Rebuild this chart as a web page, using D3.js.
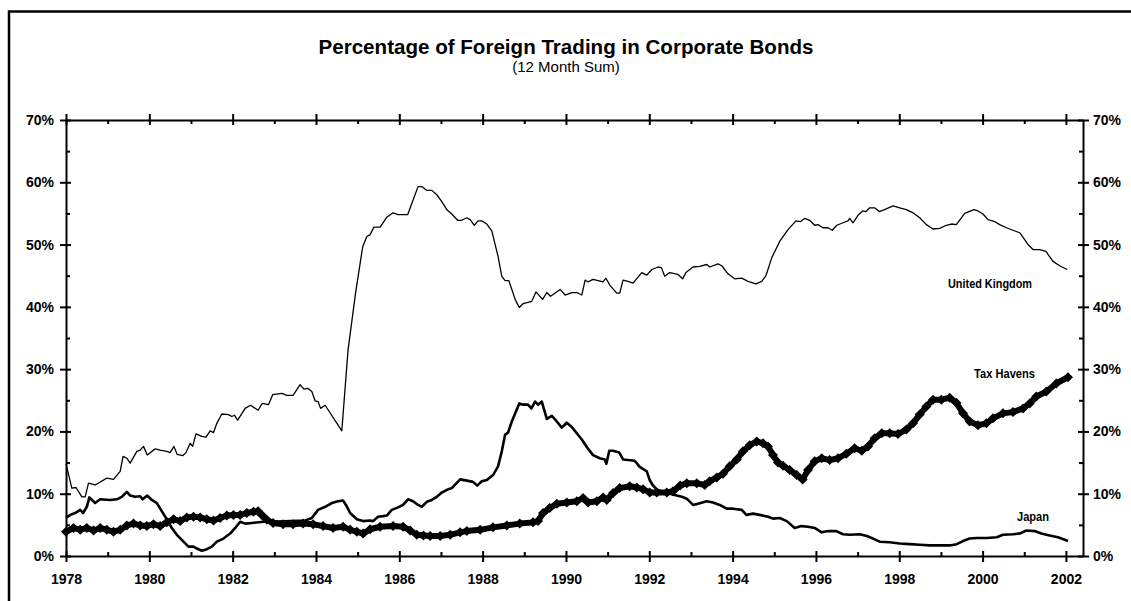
<!DOCTYPE html>
<html>
<head>
<meta charset="utf-8">
<script src="https://cdn.jsdelivr.net/npm/d3@7"></script>
<style>
  body { margin: 0; background: #fff; }
  svg { display: block; }
  text { font-family: "Liberation Sans", Arial, sans-serif; fill: #000; }
</style>
</head>
<body>
<script>
// values: [decimal year, percent]
const ukPoints = [
  [1978.00,14.8],[1978.14,10.9],[1978.24,11.0],[1978.38,9.5],[1978.46,9.5],[1978.54,11.7],[1978.70,11.4],[1978.98,12.5],
  [1979.14,12.3],[1979.30,13.6],[1979.37,16.0],[1979.46,15.7],[1979.54,14.9],[1979.70,16.8],[1979.78,17.0],[1979.86,17.6],[1979.95,16.2],
  [1980.14,17.2],[1980.26,17.0],[1980.42,16.8],[1980.50,16.6],[1980.59,17.6],[1980.67,16.3],[1980.80,16.1],[1980.88,16.6],[1980.98,18.1],
  [1981.04,17.6],[1981.12,19.6],[1981.26,19.2],[1981.36,19.1],[1981.46,20.1],[1981.54,19.8],[1981.62,21.3],[1981.74,22.8],[1981.90,22.7],[1981.98,22.4],
  [1982.04,22.6],[1982.12,21.8],[1982.30,23.7],[1982.43,24.2],[1982.61,23.4],[1982.71,24.5],[1982.86,24.3],[1982.96,25.9],
  [1983.18,26.1],[1983.30,25.8],[1983.45,25.8],[1983.62,27.5],[1983.71,26.8],[1983.81,26.9],[1983.90,26.4],[1983.98,24.9],
  [1984.05,24.8],[1984.11,23.7],[1984.22,24.2],[1984.62,20.1],[1984.77,33.1],[1984.95,42.2],
  [1985.12,49.6],[1985.22,51.3],[1985.30,51.6],[1985.39,52.8],[1985.54,52.8],[1985.70,54.4],[1985.85,55.1],[1985.97,54.8],
  [1986.20,54.8],[1986.45,59.3],[1986.55,59.3],[1986.66,58.7],[1986.78,58.7],[1986.90,58.0],
  [1987.02,56.9],[1987.14,55.6],[1987.26,54.9],[1987.40,53.9],[1987.50,53.9],[1987.62,54.3],[1987.70,54.0],[1987.80,53.1],[1987.89,53.8],[1987.98,53.8],
  [1988.10,53.3],[1988.22,52.2],[1988.37,48.1],[1988.46,44.9],[1988.54,44.2],[1988.63,44.2],[1988.78,41.2],[1988.88,39.9],[1988.97,40.5],
  [1989.18,40.9],[1989.28,42.4],[1989.44,41.2],[1989.54,42.3],[1989.63,41.7],[1989.86,42.8],[1989.98,41.9],
  [1990.14,42.3],[1990.26,42.3],[1990.38,41.9],[1990.46,44.3],[1990.53,44.0],[1990.65,44.4],[1990.77,44.2],[1990.89,44.0],[1990.96,44.6],
  [1991.06,43.4],[1991.22,42.2],[1991.29,42.2],[1991.37,44.3],[1991.49,44.1],[1991.61,43.8],[1991.82,45.5],[1991.94,45.1],
  [1992.06,46.0],[1992.21,46.4],[1992.29,46.3],[1992.37,44.9],[1992.49,45.5],[1992.69,45.2],[1992.80,44.5],[1992.88,45.5],
  [1993.05,46.4],[1993.21,46.5],[1993.38,46.8],[1993.45,46.4],[1993.65,46.9],[1993.74,46.6],[1993.89,45.3],
  [1994.05,44.5],[1994.22,44.6],[1994.37,44.1],[1994.56,43.7],[1994.70,44.1],[1994.80,45.0],[1994.94,47.9],
  [1995.13,50.5],[1995.33,52.4],[1995.52,53.8],[1995.63,53.7],[1995.73,54.2],[1995.85,53.9],[1995.97,53.1],
  [1996.05,53.2],[1996.17,52.7],[1996.29,52.7],[1996.39,52.3],[1996.50,53.1],[1996.65,53.5],[1996.77,53.8],[1996.81,54.2],[1996.89,53.5],
  [1997.01,54.7],[1997.12,55.4],[1997.20,55.3],[1997.29,55.9],[1997.41,55.9],[1997.52,55.3],[1997.65,55.6],[1997.85,56.2],
  [1998.01,55.9],[1998.17,55.6],[1998.33,55.1],[1998.49,54.3],[1998.65,53.2],[1998.81,52.5],[1998.97,52.6],
  [1999.13,53.1],[1999.25,53.3],[1999.37,53.2],[1999.57,55.0],[1999.79,55.6],[1999.89,55.4],
  [2000.01,54.9],[2000.13,54.0],[2000.29,53.7],[2000.41,53.2],[2000.57,52.7],[2000.73,52.3],[2000.89,51.9],
  [2001.01,50.8],[2001.09,50.0],[2001.21,49.2],[2001.37,49.2],[2001.52,48.9],[2001.69,47.3],[2001.85,46.6],[2002.03,46.0]
];

const taxPoints = [
  [1978.00,3.9],[1978.18,4.5],[1978.34,4.2],[1978.50,4.5],[1978.66,4.1],[1978.82,4.5],[1978.98,4.2],
  [1979.14,3.9],[1979.30,4.2],[1979.46,4.9],[1979.62,5.2],[1979.78,4.9],[1979.94,4.8],
  [1980.10,5.1],[1980.26,4.8],[1980.42,5.4],[1980.58,5.9],[1980.74,5.6],[1980.90,6.2],
  [1981.06,6.3],[1981.22,6.2],[1981.38,5.9],[1981.54,5.7],[1981.70,6.1],[1981.86,6.5],
  [1982.02,6.6],[1982.18,6.6],[1982.34,6.9],[1982.50,7.1],[1982.61,7.2],[1982.70,6.6],[1982.82,5.8],[1982.97,5.3],
  [1983.21,5.1],[1983.45,5.1],[1983.69,5.2],[1983.93,5.1],
  [1984.17,4.8],[1984.41,4.5],[1984.65,4.7],[1984.82,4.2],[1984.98,3.9],
  [1985.13,3.6],[1985.30,4.3],[1985.54,4.7],[1985.85,4.8],
  [1986.09,4.7],[1986.26,4.1],[1986.42,3.4],[1986.58,3.3],[1986.74,3.2],[1986.98,3.2],
  [1987.22,3.4],[1987.46,3.8],[1987.62,4.0],[1987.94,4.2],
  [1988.25,4.6],[1988.58,4.9],[1988.89,5.2],
  [1989.21,5.4],[1989.33,5.6],[1989.45,6.9],[1989.61,7.7],[1989.78,8.4],
  [1990.02,8.6],[1990.26,8.8],[1990.41,9.3],[1990.53,8.6],[1990.74,8.8],[1990.89,9.4],[1990.98,9.0],
  [1991.13,10.1],[1991.29,10.9],[1991.53,11.2],[1991.70,11.0],[1991.85,10.7],
  [1992.01,10.2],[1992.18,10.2],[1992.42,10.2],[1992.57,10.4],[1992.74,11.3],[1992.90,11.7],
  [1993.14,11.7],[1993.33,11.4],[1993.45,12.0],[1993.62,12.6],[1993.77,13.2],[1993.93,14.4],
  [1994.10,15.5],[1994.25,16.8],[1994.41,17.8],[1994.58,18.4],[1994.73,18.1],[1994.85,17.6],[1994.97,16.2],
  [1995.09,15.0],[1995.21,14.5],[1995.37,13.8],[1995.54,13.0],[1995.68,12.3],[1995.81,13.8],[1995.97,15.2],
  [1996.14,15.7],[1996.33,15.4],[1996.53,15.7],[1996.73,16.4],[1996.93,17.3],
  [1997.10,16.9],[1997.25,17.6],[1997.41,18.9],[1997.58,19.7],[1997.77,19.7],[1997.97,19.6],
  [1998.17,20.3],[1998.33,21.3],[1998.49,22.7],[1998.65,24.0],[1998.81,25.1],
  [1999.01,25.1],[1999.21,25.4],[1999.37,24.6],[1999.53,22.9],[1999.69,21.6],[1999.89,21.0],
  [2000.09,21.3],[2000.25,22.1],[2000.49,22.9],[2000.73,23.1],[2000.97,23.7],
  [2001.13,24.5],[2001.29,25.6],[2001.53,26.4],[2001.77,27.7],[2002.05,28.7]
];

const japanPoints = [
  [1978.00,6.1],[1978.10,6.6],[1978.22,6.9],[1978.34,7.4],[1978.41,6.9],[1978.50,7.9],[1978.56,9.4],[1978.70,8.5],[1978.82,9.1],
  [1979.06,9.0],[1979.22,9.1],[1979.34,9.5],[1979.46,10.3],[1979.54,9.7],[1979.66,9.5],[1979.78,9.6],[1979.84,9.1],[1979.95,9.7],
  [1980.06,9.0],[1980.18,8.5],[1980.28,7.4],[1980.40,6.1],[1980.54,4.5],[1980.66,3.4],[1980.82,2.3],[1980.94,1.5],
  [1981.06,1.5],[1981.14,1.2],[1981.26,0.85],[1981.38,1.1],[1981.50,1.5],[1981.62,2.3],[1981.78,2.8],[1981.94,3.6],
  [1982.06,4.5],[1982.18,5.5],[1982.30,5.2],[1982.46,5.3],[1982.74,5.5],[1982.90,5.5],
  [1983.38,5.6],[1983.74,5.7],[1983.90,6.1],
  [1984.05,7.4],[1984.22,7.9],[1984.38,8.5],[1984.53,8.8],[1984.65,8.9],[1984.72,8.2],[1984.82,6.9],[1984.98,5.9],
  [1985.13,5.6],[1985.30,5.7],[1985.37,5.6],[1985.49,6.3],[1985.61,6.4],[1985.70,6.5],[1985.82,7.4],[1985.97,7.8],
  [1986.09,8.2],[1986.21,9.1],[1986.33,8.8],[1986.45,8.2],[1986.54,7.9],[1986.66,8.7],[1986.78,9.0],[1986.90,9.5],
  [1987.02,10.2],[1987.17,10.7],[1987.26,10.9],[1987.46,12.3],[1987.62,12.1],[1987.77,11.9],[1987.87,11.3],[1987.98,12.0],
  [1988.10,12.2],[1988.25,13.0],[1988.37,14.4],[1988.46,16.8],[1988.54,19.5],[1988.61,19.8],[1988.70,21.6],[1988.88,24.5],[1988.97,24.3],
  [1989.09,24.3],[1989.17,23.7],[1989.26,24.8],[1989.33,24.3],[1989.42,24.8],[1989.54,22.0],[1989.66,22.5],[1989.78,21.6],[1989.90,20.6],
  [1990.02,21.4],[1990.14,20.7],[1990.26,19.7],[1990.38,18.7],[1990.50,17.5],[1990.65,16.2],[1990.81,15.7],[1990.93,15.5],[1990.97,14.8],
  [1991.04,16.9],[1991.13,16.9],[1991.28,16.6],[1991.37,15.5],[1991.49,15.4],[1991.65,15.3],[1991.77,14.3],[1991.94,13.6],
  [1992.01,12.2],[1992.08,11.4],[1992.18,10.7],[1992.33,10.2],[1992.54,9.9],[1992.78,9.5],[1992.90,9.2],
  [1993.05,8.2],[1993.17,8.4],[1993.38,8.8],[1993.53,8.6],[1993.69,8.2],[1993.86,7.6],
  [1994.01,7.6],[1994.22,7.4],[1994.33,6.6],[1994.49,6.8],[1994.65,6.6],[1994.85,6.3],[1994.97,6.0],
  [1995.13,6.1],[1995.30,5.6],[1995.49,4.5],[1995.65,4.8],[1995.81,4.7],[1995.97,4.5],
  [1996.14,3.8],[1996.29,4.0],[1996.49,4.0],[1996.65,3.5],[1996.81,3.4],
  [1997.05,3.5],[1997.22,3.2],[1997.37,2.8],[1997.53,2.3],[1997.77,2.2],
  [1998.01,2.0],[1998.25,1.9],[1998.49,1.8],[1998.73,1.7],[1998.97,1.7],
  [1999.21,1.7],[1999.38,1.9],[1999.53,2.4],[1999.69,2.8],[1999.86,2.9],
  [2000.10,2.9],[2000.34,3.0],[2000.49,3.4],[2000.73,3.5],[2000.89,3.6],
  [2001.05,4.1],[2001.25,4.0],[2001.41,3.6],[2001.61,3.3],[2001.81,3.0],[2002.05,2.4]
];

const yearTicks = d3.range(1978, 2003);
const pctTicks = d3.range(0, 71, 5);
const seriesNames = ["United Kingdom", "Tax Havens", "Japan"];

const W = 1131, H = 601;
const svg = d3.select("body").append("svg").attr("width", W).attr("height", H);

// outer frame (runs off the right and bottom edge)
svg.append("path")
  .attr("d", "M9,605V11.5H1140")
  .attr("fill", "none").attr("stroke", "#000").attr("stroke-width", 2.5);

svg.append("text").attr("x", 566).attr("y", 54).attr("text-anchor", "middle")
  .attr("font-size", 21).attr("font-weight", "bold")
  .attr("textLength", 495).attr("lengthAdjust", "spacingAndGlyphs")
  .text("Percentage of Foreign Trading in Corporate Bonds");
svg.append("text").attr("x", 566).attr("y", 72).attr("text-anchor", "middle")
  .attr("font-size", 15)
  .text("(12 Month Sum)");

const x = d3.scaleLinear().domain([1978, 2002.41]).range([66, 1083]);
const y = d3.scaleLinear().domain([0, 70]).range([556, 120]);

const isMajorYear = d => d % 2 === 0;
const isMajorPct = d => d % 10 === 0;

function styleAxis(g) {
  g.select(".domain").attr("stroke-width", 2);
  g.selectAll(".tick line").attr("stroke-width", 2);
  g.selectAll(".tick text").attr("font-size", 14).attr("font-weight", "bold")
    .attr("font-family", '"Liberation Sans", Arial, sans-serif');
}

// bottom
svg.append("g").attr("transform", `translate(0,${y(0)})`)
  .call(d3.axisBottom(x).tickValues(yearTicks).tickSize(0).tickSizeOuter(0).tickPadding(18)
    .tickFormat(d => isMajorYear(d) ? d : ""))
  .call(styleAxis)
  .call(g => g.selectAll(".tick line")
    .attr("y1", d => isMajorYear(d) ? -5 : -4)
    .attr("y2", d => isMajorYear(d) ? 6 : 0));

// top
svg.append("g").attr("transform", `translate(0,${y(70)})`)
  .call(d3.axisTop(x).tickValues(yearTicks).tickSize(0).tickSizeOuter(0).tickFormat(""))
  .call(styleAxis)
  .call(g => g.selectAll(".tick line")
    .attr("y1", d => isMajorYear(d) ? -6 : 0)
    .attr("y2", d => isMajorYear(d) ? 5 : 4));

// left
svg.append("g").attr("transform", `translate(${x(1978)},0)`)
  .call(d3.axisLeft(y).tickValues(pctTicks).tickSize(0).tickSizeOuter(0).tickPadding(12)
    .tickFormat(d => isMajorPct(d) ? d + "%" : ""))
  .call(styleAxis)
  .call(g => g.selectAll(".tick line")
    .attr("x1", d => isMajorPct(d) ? -6 : 0)
    .attr("x2", d => isMajorPct(d) ? 5 : 4));

// right
svg.append("g").attr("transform", `translate(${x.range()[1]},0)`)
  .call(d3.axisRight(y).tickValues(pctTicks).tickSize(0).tickSizeOuter(0).tickPadding(10)
    .tickFormat(d => isMajorPct(d) ? d + "%" : ""))
  .call(styleAxis)
  .call(g => g.selectAll(".tick line")
    .attr("x1", d => isMajorPct(d) ? -5 : -4)
    .attr("x2", d => isMajorPct(d) ? 6 : 0));

const line = d3.line().x(d => x(d[0])).y(d => y(d[1]));

// japan - medium line
svg.append("path").datum(japanPoints).attr("d", line)
  .attr("fill", "none").attr("stroke", "#000").attr("stroke-width", 2.6).attr("stroke-linejoin", "round");

// tax havens - line with diamond markers
svg.append("path").datum(taxPoints).attr("d", line)
  .attr("fill", "none").attr("stroke", "#000").attr("stroke-width", 6).attr("stroke-linejoin", "round");
const r = 5;
svg.append("g").selectAll("path").data(taxPoints).join("path")
  .attr("transform", d => `translate(${x(d[0])},${y(d[1])})`)
  .attr("d", `M0,${-r}L${r},0L0,${r}L${-r},0Z`)
  .attr("fill", "#000");

// united kingdom - thin line
svg.append("path").datum(ukPoints).attr("d", line)
  .attr("fill", "none").attr("stroke", "#000").attr("stroke-width", 1.3).attr("stroke-linejoin", "round");

// series labels
const labelPos = [[948, 288], [974, 378], [1017, 521]];
const labelWidth = [84, 61, 32];
svg.append("g").selectAll("text").data(seriesNames).join("text")
  .attr("x", (d, i) => labelPos[i][0]).attr("y", (d, i) => labelPos[i][1])
  .attr("font-size", 12).attr("font-weight", "bold")
  .attr("textLength", (d, i) => labelWidth[i]).attr("lengthAdjust", "spacingAndGlyphs")
  .text(d => d);
</script>
</body>
</html>
